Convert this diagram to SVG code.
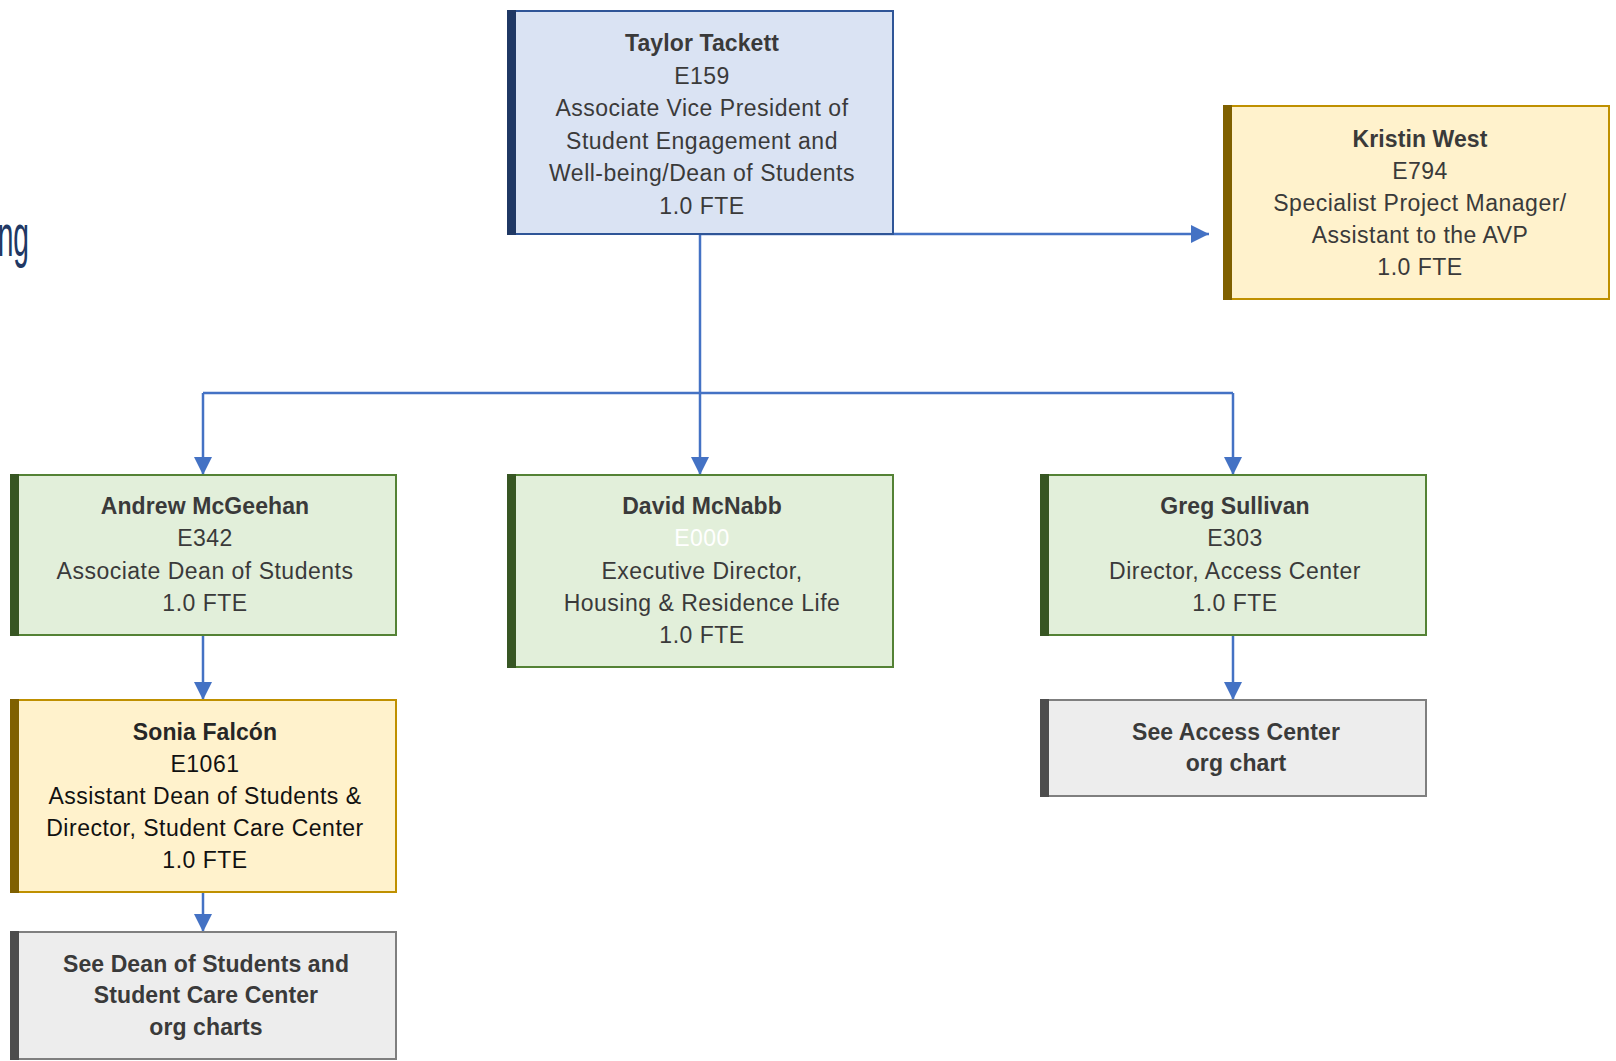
<svg xmlns="http://www.w3.org/2000/svg" width="1616" height="1061" viewBox="0 0 1616 1061">
<defs>
<marker id="arr" markerUnits="userSpaceOnUse" markerWidth="18" markerHeight="18" refX="18" refY="9" orient="auto">
<path d="M0,0 L18,9 L0,18 z" fill="#4472C4"/>
</marker>
<style>
.t{font-family:"Liberation Sans",Arial,sans-serif;font-size:23px;fill:#3A3A3A;text-anchor:middle;letter-spacing:0.5px}
.b{font-weight:bold;letter-spacing:0.1px}
.blue rect.box{fill:#DAE3F3;stroke:#2F5597;stroke-width:2}
.blue rect.bar{fill:#1F3864}
.yel rect.box{fill:#FFF2CC;stroke:#BF9000;stroke-width:2}
.yel rect.bar{fill:#7F6000}
.grn rect.box{fill:#E2EFDA;stroke:#548235;stroke-width:2}
.grn rect.bar{fill:#375623}
.gry rect.box{fill:#EDEDED;stroke:#7F7F7F;stroke-width:2}
.gry rect.bar{fill:#4D4D4D}
.c{fill:none;stroke:#4472C4;stroke-width:2.5}
</style>
</defs>
<rect width="1616" height="1061" fill="#FFFFFF"/>
<text transform="translate(29,256) scale(0.47,1)" font-family="Liberation Sans,Arial,sans-serif" font-size="60" fill="#203864" text-anchor="end">ng</text>

<g id="connectors">
<path class="c" d="M700,234 L700,393"/>
<path class="c" d="M203,393 L1233,393"/>
<path class="c" d="M203,393 L203,475" marker-end="url(#arr)"/>
<path class="c" d="M700,393 L700,475" marker-end="url(#arr)"/>
<path class="c" d="M1233,393 L1233,475" marker-end="url(#arr)"/>
<path class="c" d="M700,234 L1209,234" marker-end="url(#arr)"/>
<path class="c" d="M203,635 L203,700" marker-end="url(#arr)"/>
<path class="c" d="M203,892 L203,932" marker-end="url(#arr)"/>
<path class="c" d="M1233,635 L1233,700" marker-end="url(#arr)"/>
</g>

<g id="taylor" class="blue">
<rect class="box" x="508" y="11" width="385" height="223"/>
<rect class="bar" x="507" y="10" width="9" height="225"/>
<text class="t b" x="702" y="51">Taylor Tackett</text>
<text class="t" x="702" y="83.5">E159</text>
<text class="t" x="702" y="116">Associate Vice President of</text>
<text class="t" x="702" y="148.5">Student Engagement and</text>
<text class="t" x="702" y="181">Well-being/Dean of Students</text>
<text class="t" x="702" y="213.5">1.0 FTE</text>
</g>

<g id="kristin" class="yel">
<rect class="box" x="1224" y="106" width="385" height="193"/>
<rect class="bar" x="1223" y="105" width="9" height="195"/>
<text class="t b" x="1420" y="147">Kristin West</text>
<text class="t" x="1420" y="179">E794</text>
<text class="t" x="1420" y="211">Specialist Project Manager/</text>
<text class="t" x="1420" y="243">Assistant to the AVP</text>
<text class="t" x="1420" y="275">1.0 FTE</text>
</g>

<g id="andrew" class="grn">
<rect class="box" x="11" y="475" width="385" height="160"/>
<rect class="bar" x="10" y="474" width="9" height="162"/>
<text class="t b" x="205" y="514">Andrew McGeehan</text>
<text class="t" x="205" y="546">E342</text>
<text class="t" x="205" y="578.5">Associate Dean of Students</text>
<text class="t" x="205" y="610.5">1.0 FTE</text>
</g>

<g id="david" class="grn">
<rect class="box" x="508" y="475" width="385" height="192"/>
<rect class="bar" x="507" y="474" width="9" height="194"/>
<text class="t b" x="702" y="514">David McNabb</text>
<text class="t" x="702" y="546" style="fill:#FFFFFF">E000</text>
<text class="t" x="702" y="578.5">Executive Director,</text>
<text class="t" x="702" y="610.5">Housing &amp; Residence Life</text>
<text class="t" x="702" y="643">1.0 FTE</text>
</g>

<g id="greg" class="grn">
<rect class="box" x="1041" y="475" width="385" height="160"/>
<rect class="bar" x="1040" y="474" width="9" height="162"/>
<text class="t b" x="1235" y="514">Greg Sullivan</text>
<text class="t" x="1235" y="546">E303</text>
<text class="t" x="1235" y="578.5">Director, Access Center</text>
<text class="t" x="1235" y="610.5">1.0 FTE</text>
</g>

<g id="access" class="gry">
<rect class="box" x="1041" y="700" width="385" height="96"/>
<rect class="bar" x="1040" y="699" width="9" height="98"/>
<text class="t b" x="1236" y="739.5">See Access Center</text>
<text class="t b" x="1236" y="771">org chart</text>
</g>

<g id="sonia" class="yel">
<rect class="box" x="11" y="700" width="385" height="192"/>
<rect class="bar" x="10" y="699" width="9" height="194"/>
<text class="t b" x="205" y="740" style="fill:#262626">Sonia Falcón</text>
<text class="t" x="205" y="772" style="fill:#111111">E1061</text>
<text class="t" x="205" y="803.5" style="fill:#111111">Assistant Dean of Students &amp;</text>
<text class="t" x="205" y="835.5" style="fill:#111111">Director, Student Care Center</text>
<text class="t" x="205" y="868" style="fill:#111111">1.0 FTE</text>
</g>

<g id="dean" class="gry">
<rect class="box" x="11" y="932" width="385" height="127"/>
<rect class="bar" x="10" y="931" width="9" height="129"/>
<text class="t b" x="206" y="971.5">See Dean of Students and</text>
<text class="t b" x="206" y="1003">Student Care Center</text>
<text class="t b" x="206" y="1035">org charts</text>
</g>
</svg>
